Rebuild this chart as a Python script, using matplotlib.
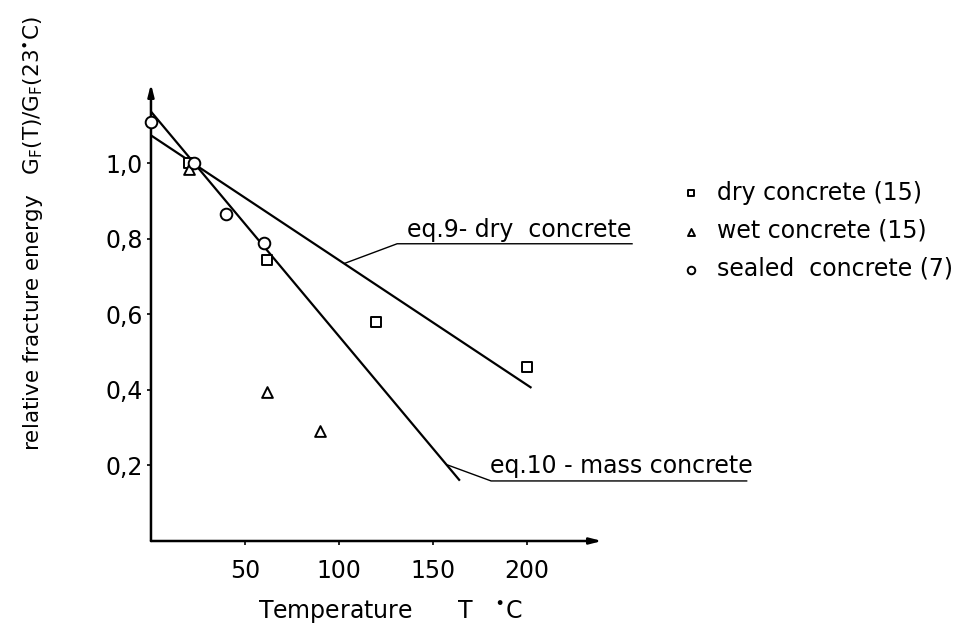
import numpy as np
import matplotlib
matplotlib.use("Agg")
import matplotlib.pyplot as plt

plt.rcParams['font.family'] = ['DejaVu Sans']
plt.rcParams['mathtext.default'] = 'regular'

dry_T = [20, 62, 120, 200]
dry_G = [1.0, 0.745, 0.58, 0.46]
wet_T = [20, 62, 90]
wet_G = [0.985, 0.395, 0.29]
sealed_T = [0, 23, 40, 60]
sealed_G = [1.11, 1.0, 0.865, 0.79]

# fitted lines (end points)
eq9_T = [0, 202]
eq9_G = [1.074, 0.407]
eq10_T = [0, 164]
eq10_G = [1.137, 0.162]

x_ticks = [50, 100, 150, 200]
y_ticks = [0.2, 0.4, 0.6, 0.8, 1.0]
y_ticklabels = ['0,2', '0,4', '0,6', '0,8', '1,0']

legend_labels = ['dry concrete (15)', 'wet concrete (15)', 'sealed  concrete (7)']

fs = 17

fig = plt.figure(figsize=(9.61, 6.25), dpi=100)
ax = fig.add_axes([0.1571, 0.1344, 0.4693, 0.7312])
ax.set_xlim(0, 240)
ax.set_ylim(0, 1.21)

for s in ['top', 'right', 'left', 'bottom']:
    ax.spines[s].set_visible(False)

# axes with arrow heads
arrow = dict(arrowstyle='-|>,head_length=0.7,head_width=0.18', color='black', lw=1.8,
             shrinkA=0, shrinkB=0)
ax.annotate('', xy=(1, 0), xytext=(0, 0), xycoords='axes fraction', arrowprops=arrow)
ax.annotate('', xy=(0, 1), xytext=(0, 0), xycoords='axes fraction', arrowprops=arrow)

ax.plot(eq9_T, eq9_G, color='black', lw=1.6)
ax.plot(eq10_T, eq10_G, color='black', lw=1.6)

mk = dict(facecolor='white', edgecolor='black', linewidths=1.4, clip_on=False, zorder=3)
h1 = ax.scatter(dry_T, dry_G, marker='s', s=55, **mk)
h2 = ax.scatter(wet_T, wet_G, marker='^', s=60, **mk)
h3 = ax.scatter(sealed_T, sealed_G, marker='o', s=70, **mk)

# leader lines and labels for the equations
ax.plot([103, 131, 256], [0.735, 0.787, 0.787], color='black', lw=1.0, clip_on=False)
ax.text(136, 0.805, 'eq.9- dry  concrete', fontsize=fs, va='baseline', ha='left')
ax.plot([158, 181, 317], [0.201, 0.159, 0.159], color='black', lw=1.0, clip_on=False)
ax.text(180.5, 0.18, 'eq.10 - mass concrete', fontsize=fs, va='baseline', ha='left')

ax.set_xticks(x_ticks)
ax.set_xticklabels([str(t) for t in x_ticks], fontsize=fs)
ax.set_yticks(y_ticks)
ax.set_yticklabels(y_ticklabels, fontsize=fs)
ax.tick_params(direction='out', length=3, width=1.2, pad=10)
ax.tick_params(axis='y', pad=3)

ax.set_xlabel('Temperature      T   $^{\\bullet}$C', fontsize=fs)
ax.xaxis.set_label_coords(0.53, -0.125)
ax.set_ylabel('relative fracture energy   G$_F$(T)/G$_F$(23$^{\\bullet}$C)', fontsize=15.5)
ax.yaxis.set_label_coords(-0.232, 0.674)

leg = ax.legend([h1, h2, h3], legend_labels, loc='upper left', bbox_to_anchor=(0.685, 0.745),
                bbox_transform=fig.transFigure, frameon=False, fontsize=fs,
                markerscale=0.65, handletextpad=0.6, labelspacing=0.6, handlelength=1.0)

fig.savefig('out.png', dpi=100)
